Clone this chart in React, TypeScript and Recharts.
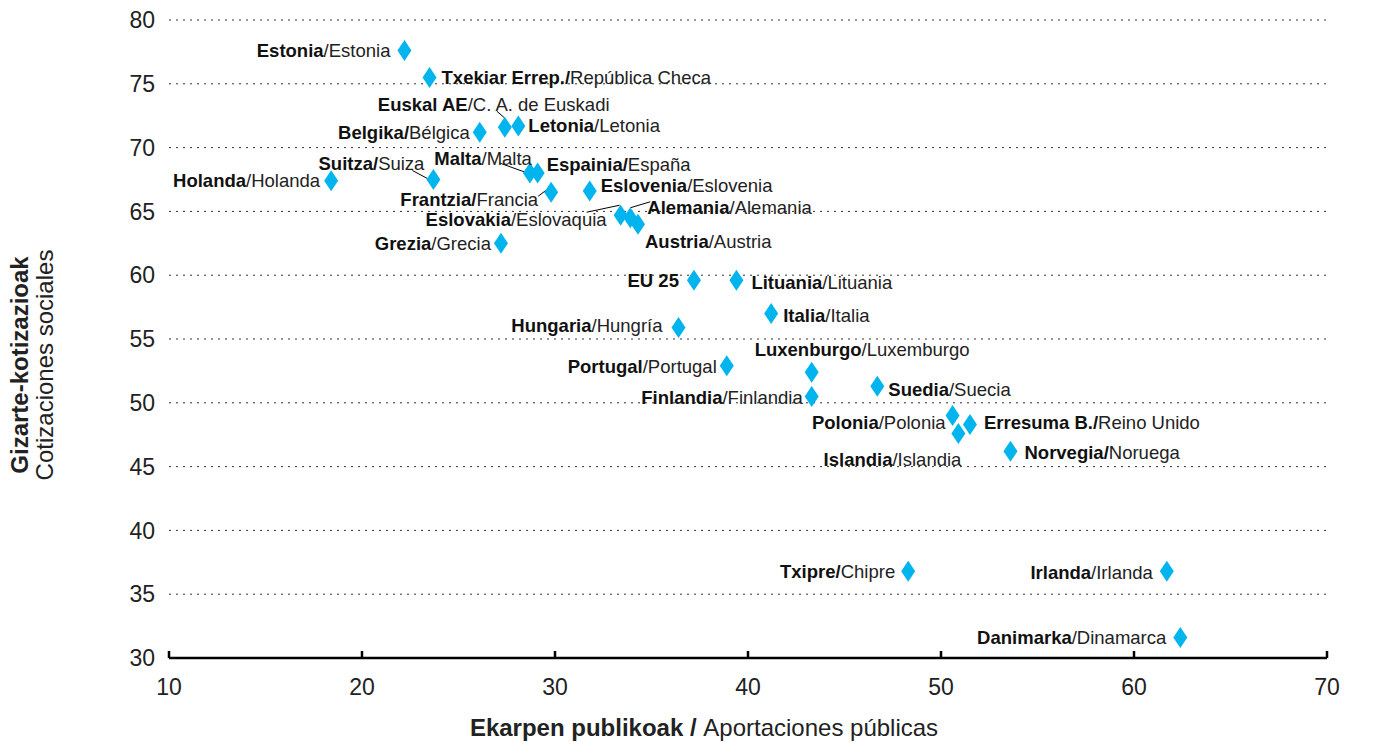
import React from 'react';
import { ScatterChart, Scatter, XAxis, YAxis, CartesianGrid, ReferenceLine } from 'recharts';

// ---- Data ----
const namesEu = [
  'Estonia', 'Txekiar Errep./', 'Euskal AE', 'Letonia', 'Belgika/', 'Holanda', 'Suitza/', 'Malta',
  'Espainia/', 'Frantzia/', 'Eslovenia', 'Eslovakia', 'Alemania', 'Austria', 'Grezia', 'EU 25',
  'Lituania', 'Italia', 'Hungaria', 'Portugal', 'Luxenburgo', 'Suedia', 'Finlandia', 'Polonia',
  'Erresuma B./', 'Islandia', 'Norvegia/', 'Txipre/', 'Irlanda', 'Danimarka',
];
const namesEs = [
  '/Estonia', 'República Checa', '/C. A. de Euskadi', '/Letonia', 'Bélgica', '/Holanda', 'Suiza', '/Malta',
  'España', 'Francia', '/Eslovenia', '/Eslovaquia', '/Alemania', '/Austria', '/Grecia', '',
  '/Lituania', '/Italia', '/Hungría', '/Portugal', '/Luxemburgo', '/Suecia', '/Finlandia', '/Polonia',
  'Reino Unido', '/Islandia', 'Noruega', 'Chipre', '/Irlanda', '/Dinamarca',
];
const publicContrib = [
  22.2, 23.5, 27.4, 28.1, 26.1, 18.4, 23.7, 28.7,
  29.1, 29.8, 31.8, 33.4, 33.9, 34.3, 27.2, 37.2,
  39.4, 41.2, 36.4, 38.9, 43.3, 46.7, 43.3, 50.6,
  51.5, 50.9, 53.6, 48.3, 61.7, 62.4,
];
const socialContrib = [
  77.6, 75.5, 71.6, 71.7, 71.2, 67.4, 67.5, 68.0,
  68.0, 66.5, 66.6, 64.7, 64.5, 64.0, 62.5, 59.6,
  59.6, 57.0, 55.9, 52.9, 52.4, 51.3, 50.5, 49.0,
  48.3, 47.6, 46.2, 36.8, 36.8, 31.6,
];
const xTicks = [10, 20, 30, 40, 50, 60, 70];
const yTicks = [30, 35, 40, 45, 50, 55, 60, 65, 70, 75, 80];

const data = namesEu.map((n, i) => ({ eu: n, es: namesEs[i], x: publicContrib[i], y: socialContrib[i] }));

// ---- Label layout (pixel offsets relative to each marker) ----
type Lay = { a: 'start' | 'end' | 'middle'; dx: number; dy: number; line?: [number, number, number, number] };
const labelLayout: Record<string, Lay> = {
  'Estonia': { a: 'end', dx: -14, dy: 0 },
  'Txekiar Errep./': { a: 'start', dx: 12, dy: 0 },
  'Euskal AE': { a: 'start', dx: -127, dy: -23, line: [-8, -16, 0, -9] },
  'Letonia': { a: 'start', dx: 10, dy: 0 },
  'Belgika/': { a: 'end', dx: -10, dy: 0 },
  'Holanda': { a: 'end', dx: -11, dy: 0 },
  'Suitza/': { a: 'end', dx: -9, dy: -16, line: [-21, -9, -6, -1] },
  'Malta': { a: 'end', dx: 2, dy: -15, line: [-30, -10, -5, -1] },
  'Espainia/': { a: 'start', dx: 9, dy: -9 },
  'Frantzia/': { a: 'end', dx: -13, dy: 7, line: [-13, 4, -5, -2] },
  'Eslovenia': { a: 'start', dx: 11, dy: -5 },
  'Eslovakia': { a: 'end', dx: -14, dy: 4, line: [-34, -3, -1, -10] },
  'Alemania': { a: 'start', dx: 17, dy: -10, line: [0, -10, 20, -16] },
  'Austria': { a: 'start', dx: 7, dy: 17 },
  'Grezia': { a: 'end', dx: -10, dy: 0 },
  'EU 25': { a: 'end', dx: -15, dy: 0 },
  'Lituania': { a: 'start', dx: 15, dy: 2 },
  'Italia': { a: 'start', dx: 12, dy: 2 },
  'Hungaria': { a: 'end', dx: -16, dy: -2 },
  'Portugal': { a: 'end', dx: -10, dy: 1 },
  'Luxenburgo': { a: 'start', dx: -57, dy: -23 },
  'Suedia': { a: 'start', dx: 11, dy: 3 },
  'Finlandia': { a: 'end', dx: -9, dy: 1 },
  'Polonia': { a: 'end', dx: -7, dy: 7 },
  'Erresuma B./': { a: 'start', dx: 14, dy: -2 },
  'Islandia': { a: 'end', dx: 3, dy: 26 },
  'Norvegia/': { a: 'start', dx: 14, dy: 1 },
  'Txipre/': { a: 'end', dx: -13, dy: 0 },
  'Irlanda': { a: 'end', dx: -14, dy: 1 },
  'Danimarka': { a: 'end', dx: -14, dy: 0 },
};

const FONT = '"Liberation Sans", Arial, Helvetica, sans-serif';
const MARK = '#00B4EE';

const PointShape = (props: any) => {
  const { cx, cy, payload } = props;
  if (cx == null || cy == null) return null;
  const lay = labelLayout[payload.eu] || { a: 'start', dx: 10, dy: 0 };
  const hw = 7, hh = 10.5;
  return (
    <g>
      {lay.line && (
        <line x1={cx + lay.line[0]} y1={cy + lay.line[1]} x2={cx + lay.line[2]} y2={cy + lay.line[3]} stroke="#000" strokeWidth={1} />
      )}
      <polygon points={`${cx},${cy - hh} ${cx + hw},${cy} ${cx},${cy + hh} ${cx - hw},${cy}`} fill={MARK} />
      <text x={cx + lay.dx} y={cy + lay.dy} dy="0.35em" textAnchor={lay.a} fontFamily={FONT} fontSize={18.5}>
        <tspan fontWeight="bold" fill="#111">{payload.eu}</tspan>
        <tspan fill="#222">{payload.es}</tspan>
      </text>
    </g>
  );
};

const XTitle = () => (
  <text x={704} y={736} textAnchor="middle" fontFamily={FONT} fontSize={24} fill="#222">
    <tspan fontWeight="bold">Ekarpen publikoak / </tspan>
    <tspan>Aportaciones públicas</tspan>
  </text>
);

const YTitle = () => (
  <g>
    <text x={20} y={365} transform="rotate(-90 20 365)" textAnchor="middle" dy="0.35em" fontFamily={FONT} fontSize={24} fontWeight="bold" fill="#222">
      Gizarte-kotizazioak
    </text>
    <text x={45} y={365} transform="rotate(-90 45 365)" textAnchor="middle" dy="0.35em" fontFamily={FONT} fontSize={24} fill="#222">
      Cotizaciones sociales
    </text>
  </g>
);

export default function App() {
  const tickStyle = { fontFamily: FONT, fontSize: 23, fill: '#222' };
  return (
    <div style={{ position: 'absolute', left: 0, top: 0, background: '#fff' }}>
      <ScatterChart width={1380} height={742} margin={{ top: 20, right: 0, bottom: 24, left: 109 }}>
        <CartesianGrid yAxisId="left" vertical={false} stroke="#333" strokeDasharray="2 5" />
        <XAxis
          type="number"
          dataKey="x"
          domain={[10, 70]}
          ticks={xTicks}
          interval={0}
          height={60}
          axisLine={{ stroke: '#000', strokeWidth: 2.5 }}
          tickLine={false}
          tickSize={0}
          tickMargin={21}
          tick={tickStyle}
          label={<XTitle />}
        />
        <YAxis
          yAxisId="left"
          type="number"
          dataKey="y"
          domain={[30, 80]}
          ticks={yTicks}
          interval={0}
          width={60}
          axisLine={false}
          tickLine={false}
          tickSize={0}
          tickMargin={14}
          tick={tickStyle}
          label={<YTitle />}
        />
        <YAxis
          yAxisId="right"
          orientation="right"
          type="number"
          domain={[30, 80]}
          ticks={yTicks}
          interval={0}
          width={53}
          axisLine={false}
          tickLine={false}
          tickSize={0}
          tickMargin={13}
          tick={tickStyle}
        />
        {xTicks.map((t) => (
          <ReferenceLine
            key={t}
            yAxisId="left"
            segment={[{ x: t, y: 30 }, { x: t, y: 30.55 }]}
            stroke="#000"
            strokeWidth={2.5}
          />
        ))}
        <Scatter yAxisId="left" data={data} shape={<PointShape />} isAnimationActive={false} />
      </ScatterChart>
    </div>
  );
}
